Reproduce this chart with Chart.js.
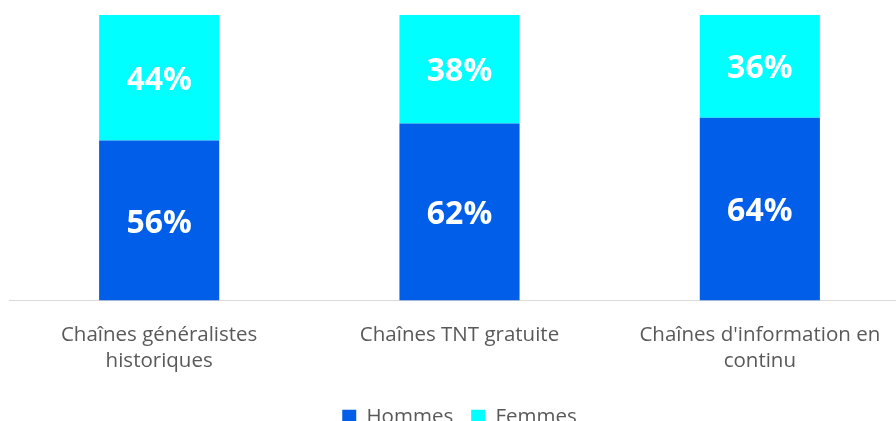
<!DOCTYPE html>
<html>
<head>
<meta charset="utf-8">
<script src="https://cdn.jsdelivr.net/npm/chart.js@4.4.1/dist/chart.umd.min.js"></script>
<style>
  html, body { margin: 0; padding: 0; background: #fff; overflow: hidden; }
  #wrap { width: 912px; height: 437px; position: relative; }
</style>
</head>
<body>
<div id="wrap"><canvas id="chart"></canvas></div>
<script>
// Données du graphique
const categories = [
  ["Chaînes généralistes", "historiques"],
  ["Chaînes TNT gratuite"],
  ["Chaînes d'information en", "continu"]
];
const hommes = [56, 62, 64];
const femmes = [44, 38, 36];

// Etiquettes blanches au milieu des barres
const labelPlugin = {
  id: "barLabels",
  afterDatasetsDraw(chart) {
    const ctx = chart.ctx;
    ctx.save();
    ctx.fillStyle = "#ffffff";
    ctx.font = "bold 32px 'Open Sans'";
    ctx.textAlign = "center";
    ctx.textBaseline = "middle";
    chart.data.datasets.forEach((ds, i) => {
      chart.getDatasetMeta(i).data.forEach((bar, j) => {
        const mid = (bar.y + bar.base) / 2 + 3;
        ctx.fillText(ds.data[j] + "%", bar.x, mid);
      });
    });
    ctx.restore();
  }
};

const ctx = document.getElementById("chart").getContext("2d");
new Chart(ctx, {
  type: "bar",
  data: {
    labels: categories,
    datasets: [
      { label: "Hommes", data: hommes, backgroundColor: "#005EE8" },
      { label: "Femmes", data: femmes, backgroundColor: "#00FFFF" }
    ]
  },
  options: {
    responsive: true,
    maintainAspectRatio: false,
    animation: false,
    barPercentage: 0.4,
    categoryPercentage: 1,
    layout: { padding: { left: 9, right: 2, top: 15, bottom: 0 } },
    plugins: {
      tooltip: { enabled: false },
      legend: {
        position: "bottom",
        labels: {
          color: "#595959",
          font: { family: "'Open Sans'", size: 20.5 },
          boxWidth: 14,
          boxHeight: 14,
          padding: 18
        }
      }
    },
    scales: {
      x: {
        stacked: true,
        grid: { display: false },
        border: { display: true, color: "#d9d9d9", width: 1 },
        ticks: {
          color: "#595959",
          font: { family: "'Open Sans'", size: 20.5, lineHeight: 1.27 },
          padding: 14,
          maxRotation: 0
        }
      },
      y: {
        stacked: true,
        display: false,
        min: 0,
        max: 100
      }
    }
  },
  plugins: [labelPlugin]
});
</script>
</body>
</html>
